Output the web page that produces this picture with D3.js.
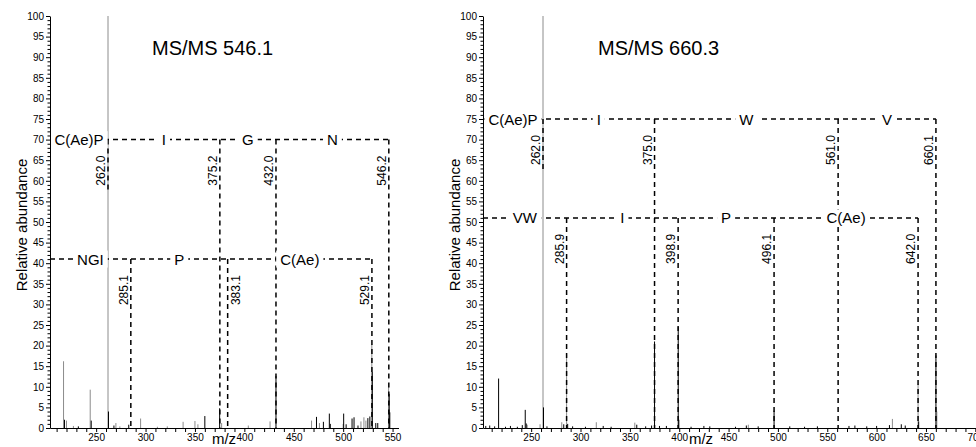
<!DOCTYPE html>
<html>
<head>
<meta charset="utf-8">
<script src="https://cdn.jsdelivr.net/npm/d3@7"></script>
<style>
    body { margin: 0; background: #fff; }
    svg { font-family: "Liberation Sans", Arial, Helvetica, sans-serif; }
    .axis text { font-size: 10px; fill: #000; }
    .axis path, .axis line { stroke: #000; stroke-width: 1; }
</style>
</head>
<body>
<svg id="chart" width="976" height="447"></svg>
<script>
// Spectrum 1 (precursor 546.1): [m/z, relative abundance]
const leftGrayPeaks = [
    [217, 16.2], [220, 1.8], [227, 0.5], [244, 9.3], [262, 100], [270, 1.2], [274, 0.4],
    [295, 2.3], [312, 0.3], [322, 0.4], [338, 1.5], [350, 1.7], [353, 0.9], [377, 1.2],
    [404, 0.6], [426, 1.6], [468, 1.8], [476, 1.2], [500, 1.0], [518, 1.6], [521, 2.6],
    [523, 1.8], [529, 20.3], [546, 10.0]
];
const leftBlackPeaks = [
    [218, 2.0], [232, 0.4], [245, 1.8], [262.5, 4.0], [268, 0.6], [283, 0.8], [360, 2.9],
    [375, 4.8], [432, 12.6], [473, 2.7], [480, 1.5], [486, 3.5], [487, 1.0], [500.5, 3.5],
    [503, 0.9], [509, 2.3], [511, 2.6], [515, 0.6], [525, 2.4], [527, 2.8], [529.5, 13.6],
    [533, 1.2], [535, 1.2], [546.6, 8.3], [547.2, 3.8]
];

// Spectrum 2 (precursor 660.3)
const rightGrayPeaks = [
    [262, 100], [285.9, 17.8], [246, 0.8], [259, 0.9], [281, 1.4], [316, 1.4], [355, 1.3],
    [470, 0.8], [616, 2.2], [642, 10.6], [661, 4.0]
];
const rightBlackPeaks = [
    [204, 0.5], [208, 0.6], [213, 0.4], [217, 12.0], [224, 0.3], [229, 0.5], [236, 0.3],
    [241, 0.7], [244, 4.4], [245, 1.1], [262.5, 5.0], [266, 0.4], [283, 0.9], [287, 1.0],
    [292, 0.4], [305, 0.3], [323, 0.5], [331, 0.3], [357, 0.8], [366, 0.4], [372, 0.6],
    [375, 21.0], [380, 0.5], [387, 0.5], [399, 24.5], [399.6, 2.0], [412, 0.3], [425, 0.5],
    [431, 0.4], [457, 0.3], [468, 0.6], [480, 0.4], [496.1, 4.2], [512, 0.4], [527, 0.3],
    [540, 0.4], [572, 0.5], [578, 0.6], [590, 0.4], [600, 0.5], [613, 0.7], [625, 0.9],
    [629, 0.6], [642.6, 1.6], [660.1, 17.6]
];

// Fragment ladders: y level, fragment m/z breaks, residue labels
// (flip = fragment labels written right of their line)
const leftLadders = [
    {level: 70, breaks: [262.0, 375.2, 432.0, 546.2], residues: ["C(Ae)P", "I", "G", "N"], flip: []},
    {level: 41, breaks: [285.1, 383.1, 529.1], residues: ["NGI", "P", "C(Ae)"], flip: [383.1]}
];
const rightLadders = [
    {level: 75, breaks: [262.0, 375.0, 561.0, 660.1], residues: ["C(Ae)P", "I", "W", "V"], flip: []},
    {level: 51, breaks: [285.9, 398.9, 496.1, 642.0], residues: ["VW", "I", "P", "C(Ae)"], flip: []}
];

const leftTicks  = d3.range(210, 551, 10);
const rightTicks = d3.range(210, 701, 10);
const yTicks     = d3.range(0, 101, 1);

const svg = d3.select("#chart");

function drawPanel(opt)
{
    const x = d3.scaleLinear().domain(opt.domain).range(opt.range);
    const y = d3.scaleLinear().domain([0, 100]).range([428, 16]);
    const g = svg.append("g");

    // Peaks
    [[opt.gray, "#8c8c8c"], [opt.black, "#000"]].forEach(([peaks, color]) => {
        g.append("g")
            .selectAll("line")
            .data(peaks)
            .join("line")
            .attr("x1", d => x(d[0])).attr("x2", d => x(d[0]))
            .attr("y1", y(0)).attr("y2", d => y(d[1]))
            .attr("stroke", color)
            .attr("stroke-width", 1);
    });

    // Ladders
    opt.ladders.forEach(ladder => {
        const ly = y(ladder.level);
        const last = ladder.breaks[ladder.breaks.length - 1];
        const dash = g.append("g")
            .attr("stroke", "#000")
            .attr("stroke-width", 1.5)
            .attr("stroke-dasharray", "5,4")
            .attr("fill", "none");

        dash.append("line")
            .attr("x1", opt.range[0]).attr("x2", x(last))
            .attr("y1", ly).attr("y2", ly);

        dash.selectAll("line.drop")
            .data(ladder.breaks)
            .join("line")
            .attr("class", "drop")
            .attr("x1", d => x(d)).attr("x2", d => x(d))
            .attr("y1", ly)
            .attr("y2", d => d === 262.0 ? ly + 52 : y(0));

        // fragment mass labels
        g.selectAll(null)
            .data(ladder.breaks)
            .join("text")
            .attr("transform", d => {
                const tx = ladder.flip.includes(d) ? x(d) + 12 : x(d) - 3;
                return `translate(${tx},${ly + 16}) rotate(-90)`;
            })
            .attr("text-anchor", "end")
            .style("font-size", "12px")
            .text(d => d.toFixed(1));

        // residue labels centred between breaks
        const edges = [opt.domain[0]].concat(ladder.breaks);
        ladder.residues.forEach((r, i) => {
            const cx = (x(edges[i]) + x(edges[i + 1])) / 2;
            const bg = g.append("rect").attr("fill", "#fff");
            const t = g.append("text")
                .attr("x", cx).attr("y", ly + 5.5)
                .attr("text-anchor", "middle")
                .style("font-size", "15px")
                .text(r);
            const b = t.node().getBBox();
            bg.attr("x", b.x - 4).attr("y", b.y)
                .attr("width", b.width + 8).attr("height", b.height);
        });
    });

    // Axes
    g.append("g")
        .attr("class", "axis")
        .attr("transform", `translate(0,${y(0)})`)
        .call(d3.axisBottom(x)
            .tickValues(opt.ticks)
            .tickFormat(d => d % 50 === 0 ? d : "")
            .tickSize(4)
            .tickSizeOuter(0)
            .tickPadding(2));

    const yAxis = g.append("g")
        .attr("class", "axis")
        .attr("transform", `translate(${opt.range[0]},0)`)
        .call(d3.axisLeft(y)
            .tickValues(yTicks)
            .tickFormat(d => d % 5 === 0 ? d : "")
            .tickSize(4)
            .tickSizeOuter(0)
            .tickPadding(2));
    yAxis.selectAll(".tick line")
        .attr("x2", d => d % 5 === 0 ? -4 : -2.5);

    // Titles
    g.append("text")
        .attr("x", opt.titleX).attr("y", 55)
        .style("font-size", "20px")
        .text(opt.title);

    g.append("text")
        .attr("transform", `translate(${opt.range[0] - 23},225) rotate(-90)`)
        .attr("text-anchor", "middle")
        .style("font-size", "15px")
        .text("Relative abundance");

    g.append("text")
        .attr("x", opt.mzX).attr("y", 444)
        .attr("text-anchor", "middle")
        .style("font-size", "15px")
        .text("m/z");
}

drawPanel({
    domain: [203.3, 556], range: [50, 398.5], ticks: leftTicks,
    gray: leftGrayPeaks, black: leftBlackPeaks, ladders: leftLadders,
    title: "MS/MS 546.1", titleX: 152, mzX: 224
});

drawPanel({
    domain: [201.2, 701], range: [483, 976.3], ticks: rightTicks,
    gray: rightGrayPeaks, black: rightBlackPeaks, ladders: rightLadders,
    title: "MS/MS 660.3", titleX: 598, mzX: 701
});
</script>
</body>
</html>
